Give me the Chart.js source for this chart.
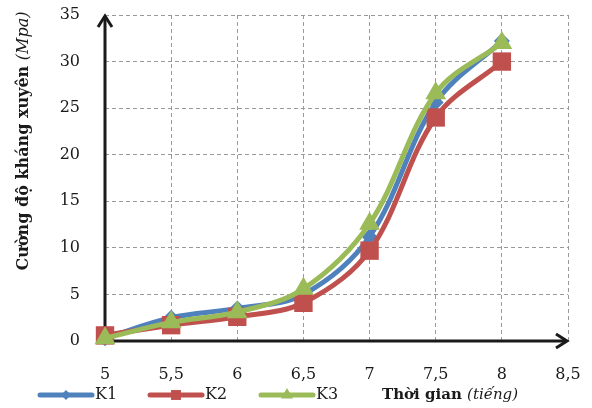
<!DOCTYPE html>
<html>
<head>
<meta charset="utf-8">
<script src="https://cdn.jsdelivr.net/npm/chart.js@4.4.1/dist/chart.umd.min.js"></script>
<style>
  html, body { margin: 0; padding: 0; background: #fff; }
  #wrap { width: 592px; height: 408px; position: relative; }
</style>
</head>
<body>
<div id="wrap"><canvas id="chart"></canvas></div>
<script>
// Penetration strength over time, three mixes
const hours = [5, 5.5, 6, 6.5, 7, 7.5, 8];
const k1 = [0.3, 2.5, 3.5, 5.0, 11.2, 25.6, 32.2];
const k2 = [0.6, 1.7, 2.6, 4.1, 9.7, 24.0, 30.0];
const k3 = [0.3, 2.0, 3.1, 5.6, 12.6, 26.6, 32.0];
const seriesNames = ['K1', 'K2', 'K3'];

const xTitle = ['Thời gian ', '(tiếng)'];
const yTitle = ['Cường độ kháng xuyên ', '(Mpa)'];

const colors = ['#4F81BD', '#C0504D', '#9BBB59'];
const markers = ['rectRot', 'rect', 'triangle'];
const markerSize = [8, 13, 12];
const FONT = '"DejaVu Serif", "Liberation Serif", serif';

const makeSet = (values, i) => ({
  label: seriesNames[i],
  data: values.map((v, j) => ({ x: hours[j], y: v })),
  borderColor: colors[i],
  backgroundColor: colors[i],
  borderWidth: 5,
  tension: 0.35,
  pointStyle: markers[i],
  pointRadius: markerSize[i],
  pointBorderWidth: 0,
  clip: false,
  order: 3 - i, // K3 on top
});

// axis lines with open arrow heads
const axesPlugin = {
  id: 'axes',
  beforeDatasetsDraw(chart) {
    const { ctx, chartArea: a } = chart;
    ctx.save();
    ctx.strokeStyle = '#1a1a1a';
    ctx.lineWidth = 3;
    ctx.lineCap = 'butt';
    ctx.beginPath();
    ctx.moveTo(a.left, a.bottom);
    ctx.lineTo(a.left, a.top + 1);
    ctx.moveTo(a.left - 1.5, a.bottom);
    ctx.lineTo(a.right - 1, a.bottom);
    ctx.stroke();
    ctx.lineJoin = 'miter';
    ctx.beginPath();
    ctx.moveTo(a.left - 7, a.top + 12);
    ctx.lineTo(a.left, a.top + 1);
    ctx.lineTo(a.left + 7, a.top + 12);
    ctx.moveTo(a.right - 12, a.bottom - 7);
    ctx.lineTo(a.right - 1, a.bottom);
    ctx.lineTo(a.right - 12, a.bottom + 7);
    ctx.stroke();
    ctx.restore();
  },
};

// axis titles (bold + italic part) and legend row
const textPlugin = {
  id: 'texts',
  afterDraw(chart) {
    const { ctx } = chart;
    const bold = `bold 16px ${FONT}`;
    const ital = `italic 16px ${FONT}`;
    ctx.save();
    ctx.fillStyle = '#1a1a1a';
    ctx.textBaseline = 'middle';

    // y title, rotated
    ctx.save();
    ctx.font = bold;
    const w1 = ctx.measureText(yTitle[0]).width;
    ctx.font = ital;
    const w2 = ctx.measureText(yTitle[1]).width;
    ctx.translate(24, 141);
    ctx.rotate(-Math.PI / 2);
    ctx.textAlign = 'left';
    ctx.font = bold;
    ctx.fillText(yTitle[0], -(w1 + w2) / 2, 0);
    ctx.font = ital;
    ctx.fillText(yTitle[1], -(w1 + w2) / 2 + w1, 0);
    ctx.restore();

    // x title
    ctx.textAlign = 'left';
    ctx.font = `bold 15px ${FONT}`;
    ctx.fillText(xTitle[0], 382, 395);
    const xw = ctx.measureText(xTitle[0]).width;
    ctx.font = `italic 15px ${FONT}`;
    ctx.fillText(xTitle[1], 382 + xw, 395);

    // legend
    const legendX = [38, 148, 259];
    chart.data.datasets.forEach((ds, i) => {
      const x0 = legendX[i];
      const y = 395;
      ctx.strokeStyle = colors[i];
      ctx.fillStyle = colors[i];
      ctx.lineWidth = 5;
      ctx.lineCap = 'round';
      ctx.beginPath();
      ctx.moveTo(x0 + 2, y);
      ctx.lineTo(x0 + 54, y);
      ctx.stroke();
      Chart.helpers.drawPoint(ctx, {
        pointStyle: markers[i], radius: [5, 7, 7][i], rotation: 0, borderWidth: 0,
      }, x0 + 28, y);
      ctx.fillStyle = '#1a1a1a';
      ctx.font = `16px ${FONT}`;
      ctx.fillText(ds.label, x0 + 57, y);
    });
    ctx.restore();
  },
};

new Chart(document.getElementById('chart'), {
  type: 'line',
  data: { datasets: [makeSet(k1, 0), makeSet(k2, 1), makeSet(k3, 2)] },
  options: {
    responsive: true,
    maintainAspectRatio: false,
    animation: false,
    layout: { autoPadding: false, padding: { top: 15, right: 24, bottom: 0, left: 0 } },
    scales: {
      x: {
        type: 'linear',
        min: 5,
        max: 8.5,
        afterFit: (s) => { s.height = 67; },
        // invisible tick marks push the labels away from the axis
        grid: { color: '#9a9a9a', lineWidth: 1, tickLength: 23, tickColor: 'rgba(0,0,0,0)' },
        border: { display: false, dash: [4, 3] },
        ticks: {
          stepSize: 0.5,
          padding: 1,
          color: '#1a1a1a',
          font: { family: FONT, size: 16 },
          callback: (v) => String(v).replace('.', ','),
        },
      },
      y: {
        min: 0,
        max: 35,
        afterFit: (s) => { s.width = 105; },
        grid: { color: '#9a9a9a', lineWidth: 1, tickLength: 24, tickColor: 'rgba(0,0,0,0)' },
        border: { display: false, dash: [4, 3] },
        ticks: {
          stepSize: 5,
          padding: 1,
          color: '#1a1a1a',
          font: { family: FONT, size: 16 },
        },
      },
    },
    plugins: {
      legend: { display: false },
      tooltip: { enabled: false },
    },
  },
  plugins: [axesPlugin, textPlugin],
});
</script>
</body>
</html>
